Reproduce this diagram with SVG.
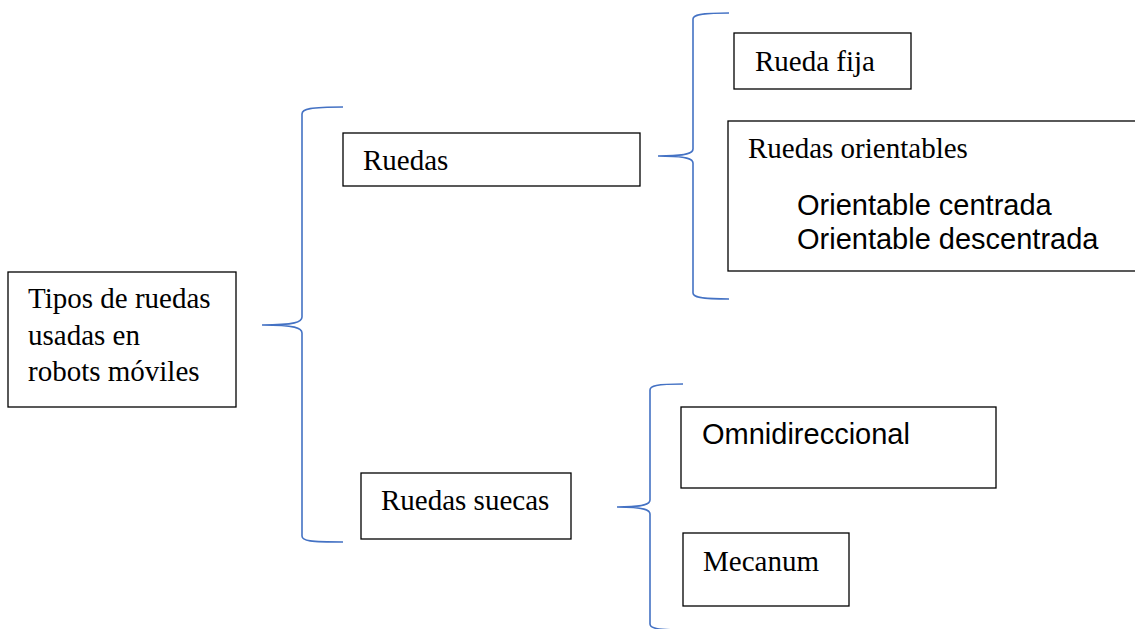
<svg xmlns="http://www.w3.org/2000/svg" width="1135" height="629" viewBox="0 0 1135 629">
<style>
.box{fill:#fff;stroke:#000;stroke-width:1.3}
.br{fill:none;stroke:#4472C4;stroke-width:1.6}
.tr{font-family:"Liberation Serif","Times New Roman",serif;font-size:29px;fill:#000}
.ta{font-family:"Liberation Sans",Arial,sans-serif;font-size:29px;fill:#000}
</style>
<rect width="1135" height="629" fill="#fff"/>
<g id="connectors">
<path class="br" d="M343,107 C310,107 302,109 302,114 L302,317 C302,322 295,325 262,325 C295,325 302,328 302,333 L302,536 C302,541 310,542 343,542"/>
<path class="br" d="M729,13 C700,13 693,15 693,19 L693,149 C693,153 688,156 658,156 C688,156 693,159 693,163 L693,293 C693,297 700,299 729,299"/>
<path class="br" d="M683,384 C656,384 650,386 650,390 L650,500 C650,504 645,507 617,507 C645,507 650,510 650,514 L650,624 C650,628 656,630 683,630"/>
</g>
<g id="root">
<rect class="box" x="8" y="272" width="228" height="135"/>
<text class="tr" x="28" y="308">Tipos de ruedas</text>
<text class="tr" x="28" y="345">usadas en</text>
<text class="tr" x="28" y="381">robots móviles</text>
</g>
<g id="ruedas">
<rect class="box" x="343" y="133" width="297" height="53"/>
<text class="tr" x="363" y="170">Ruedas</text>
</g>
<g id="rueda-fija">
<rect class="box" x="734" y="33" width="177" height="56"/>
<text class="tr" x="755" y="71">Rueda fija</text>
</g>
<g id="ruedas-orientables">
<rect class="box" x="728" y="121" width="420" height="150"/>
<text class="tr" x="748" y="158">Ruedas orientables</text>
<text class="ta" x="797" y="215">Orientable centrada</text>
<text class="ta" x="797" y="249">Orientable descentrada</text>
</g>
<g id="ruedas-suecas">
<rect class="box" x="361" y="473" width="210" height="66"/>
<text class="tr" x="381" y="510">Ruedas suecas</text>
</g>
<g id="omnidireccional">
<rect class="box" x="681" y="407" width="315" height="81"/>
<text class="ta" x="702" y="444">Omnidireccional</text>
</g>
<g id="mecanum">
<rect class="box" x="683" y="533" width="166" height="73"/>
<text class="tr" x="703" y="571">Mecanum</text>
</g>
</svg>
